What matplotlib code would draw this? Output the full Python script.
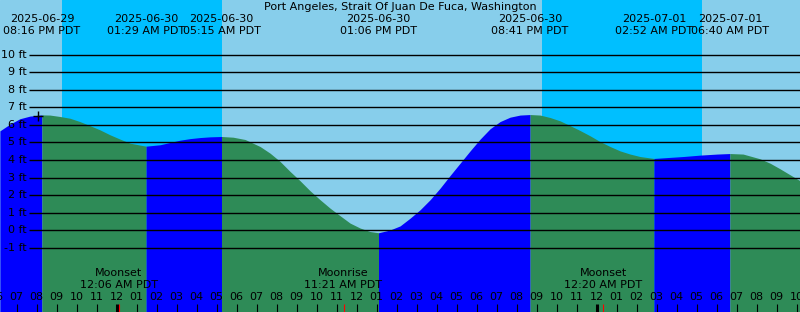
import numpy as np
import matplotlib
matplotlib.use('Agg')
import matplotlib.pyplot as plt

# hours relative to 2025-06-30 00:00 PDT
title = 'Port Angeles, Strait Of Juan De Fuca, Washington'

event_t = [-3.73, 1.48, 5.25, 13.10, 20.68, 26.87, 30.67]
event_date = ['2025-06-29', '2025-06-30', '2025-06-30', '2025-06-30',
              '2025-06-30', '2025-07-01', '2025-07-01']
event_time = ['08:16 PM PDT', '01:29 AM PDT', '05:15 AM PDT', '01:06 PM PDT',
              '08:41 PM PDT', '02:52 AM PDT', '06:40 AM PDT']

# tide height (ft)
curve_t = [-5.83, -5.33, -4.83, -4.33, -3.73, -3.33, -2.83, -2.33, -1.83, -1.33,
           -0.83, -0.33, 0.18, 0.68, 1.18, 1.48, 2.18, 2.68, 3.18, 3.68,
           4.18, 4.68, 5.25, 5.83, 6.43, 7.18, 7.68, 8.18, 8.68, 9.18,
           9.68, 10.18, 10.68, 11.18, 11.68, 12.18, 12.68, 13.10, 13.68, 14.18,
           14.68, 15.18, 15.68, 16.18, 16.68, 17.18, 17.68, 18.18, 18.68, 19.18,
           19.68, 20.18, 20.68, 21.18, 21.68, 22.18, 22.68, 23.18, 23.68, 24.18,
           24.68, 25.18, 25.68, 26.18, 26.87, 27.53, 28.33, 29.18, 30.03, 30.67,
           31.33, 32.18, 32.68, 33.18, 33.68, 34.18]
curve_lvl = [5.66, 6.04, 6.35, 6.50, 6.57, 6.56, 6.48, 6.38, 6.19, 5.96,
             5.72, 5.44, 5.19, 4.96, 4.85, 4.79, 4.87, 5.00, 5.13, 5.22,
             5.28, 5.32, 5.34, 5.30, 5.17, 4.77, 4.39, 3.92, 3.35, 2.82,
             2.25, 1.74, 1.26, 0.83, 0.41, 0.13, -0.07, -0.14, 0.02, 0.25,
             0.69, 1.17, 1.74, 2.40, 3.12, 3.82, 4.52, 5.19, 5.78, 6.19,
             6.44, 6.56, 6.59, 6.56, 6.42, 6.23, 5.96, 5.68, 5.38, 5.05,
             4.77, 4.52, 4.34, 4.20, 4.09, 4.14, 4.20, 4.28, 4.34, 4.37,
             4.34, 4.07, 3.82, 3.50, 3.16, 2.82]

night_start = [-2.725, 21.275]
night_end = [5.275, 29.275]

moon_t = [0.1, 11.35, 24.333]
moon_name = ['Moonset', 'Moonrise', 'Moonset']
moon_time = ['12:06 AM PDT', '11:21 AM PDT', '12:20 AM PDT']

grid_ft = list(range(-1, 11))

W, H = 800, 312
day_c, night_c = '#87CEEB', '#00BFFF'
rise_c, fall_c = '#0000FF', '#2E8B57'

fig = plt.figure(figsize=(W / 100, H / 100), dpi=100)
ax = fig.add_axes([0, 0, 1, 1])
x0, x1 = -5.825, 34.175
ybot, ytop = -4.65, 13.11
ax.set_xlim(x0, x1)
ax.set_ylim(ybot, ytop)
ax.axis('off')
ax.add_patch(plt.Rectangle((x0, ybot), x1 - x0, ytop - ybot, color=day_c, zorder=0))
for a, b in zip(night_start, night_end):
    ax.axvspan(a, b, color=night_c, lw=0, zorder=1)

ct = np.array(curve_t)
cl = np.array(curve_lvl)
bounds = [x0 - 1] + event_t + [x1 + 1]
for i in range(len(bounds) - 1):
    m = (ct >= bounds[i] - 1e-6) & (ct <= bounds[i + 1] + 1e-6)
    seg_t, seg_l = ct[m], cl[m]
    c = rise_c if seg_l[-1] > seg_l[0] else fall_c
    ax.fill_between(seg_t, seg_l, ybot, color=c, lw=0, zorder=2)

def ypx(p):
    return 1 - p / H

xt = ax.get_xaxis_transform()
fs = 8

# grid lines + labels
gx = (29 - 116.5) / 20
for f in grid_ft:
    ax.plot([gx, x1], [f, f], color='black', lw=1.0, zorder=3, solid_capstyle='butt')
    ax.text(gx - 0.1, f, f'{f} ft', ha='right', va='center', fontsize=fs, zorder=4)

ax.plot([-3.94], [6.5], marker='+', color='black', ms=7, mew=1.0, zorder=5)

ax.text(0.5, ypx(7), title, transform=ax.transAxes, ha='center', va='center', fontsize=fs)
for t, d, s in zip(event_t, event_date, event_time):
    ax.text(t, ypx(19.5), d, transform=xt, ha='center', va='center', fontsize=fs, zorder=6)
    ax.text(t, ypx(31.5), s, transform=xt, ha='center', va='center', fontsize=fs, zorder=6)

for t, n, s in zip(moon_t, moon_name, moon_time):
    ax.text(t, ypx(273.5), n, transform=xt, ha='center', va='center', fontsize=fs, zorder=6)
    ax.text(t, ypx(285.5), s, transform=xt, ha='center', va='center', fontsize=fs, zorder=6)

# hour axis
for h in range(-6, 35):
    hr = (h % 12) or 12
    ax.text(h, ypx(297.5), f'{hr:02d}', transform=xt, ha='center', va='center',
            fontsize=fs, zorder=6)
    if h % 24 == 0:
        ax.plot([h, h], [ypx(304), 0], transform=xt, color='black', lw=2.2,
                solid_capstyle='butt', zorder=6)
    else:
        ax.plot([h, h], [ypx(304), 0], transform=xt, color='black', lw=0.8,
                solid_capstyle='butt', zorder=6)
for t in moon_t:
    ax.plot([t, t], [ypx(304), 0], transform=xt, color='red', lw=0.8,
            solid_capstyle='butt', zorder=7)

fig.savefig('out.png', dpi=100)
